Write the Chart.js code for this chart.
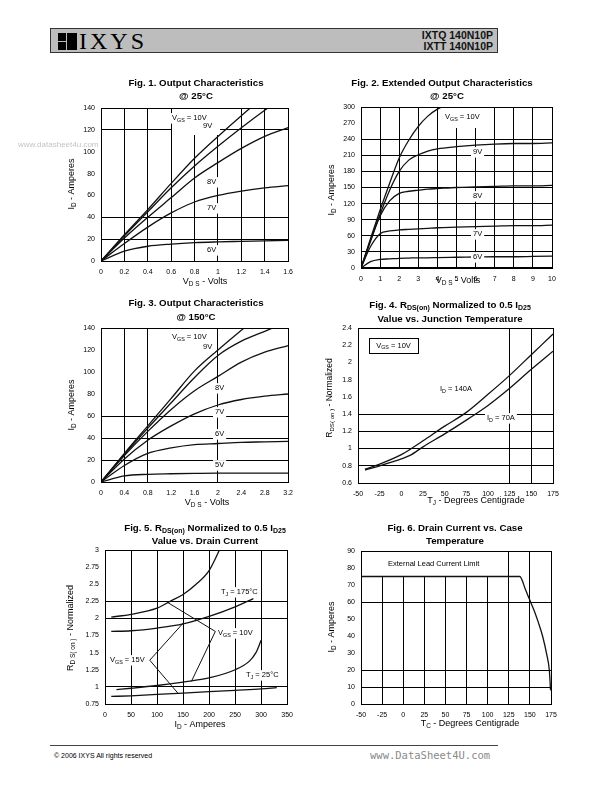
<!DOCTYPE html>
<html>
<head>
<meta charset="utf-8">
<script src="https://cdn.jsdelivr.net/npm/chart.js@4.4.1/dist/chart.umd.min.js"></script>
<style>
  body { margin: 0; width: 595px; height: 791px; position: relative; overflow: hidden; background: #fff; font-family: "Liberation Sans", Arial, sans-serif; }
  canvas { position: absolute; }
  .hdr { position: absolute; left: 50px; top: 28px; width: 446px; height: 23px; background: #bdbdbd; border: 1px solid #333; }
  .logo { position: absolute; left: 7px; top: 4px; width: 19px; height: 17px; background: #000; }
  .logo .v { position: absolute; left: 8px; top: 0; width: 1px; height: 17px; background: #bdbdbd; }
  .logo .h { position: absolute; left: 0; top: 8px; width: 8px; height: 1px; background: #bdbdbd; }
  .brand { position: absolute; left: 28px; top: 0; font: 24px/24px "Liberation Serif", "Times New Roman", serif; letter-spacing: 3px; color: #000; }
  .part { position: absolute; right: 4px; top: 1px; font: bold 10.5px/10.5px "Liberation Sans", Arial, sans-serif; text-align: right; color: #111; }
  .foot { position: absolute; left: 50px; top: 745px; width: 448px; border-top: 1px solid #444; }
  .copy { position: absolute; left: 54px; top: 752px; font: 7px "Liberation Sans", Arial, sans-serif; color: #000; }
  .site { position: absolute; left: 370px; top: 749px; font: 10.5px "DejaVu Sans Mono", monospace; color: #8a8a8a; }
</style>
</head>
<body>
<div class="hdr">
  <div class="logo"><div class="v"></div><div class="h"></div></div>
  <div class="brand">IXYS</div>
  <div class="part">IXTQ 140N10P<br>IXTT 140N10P</div>
</div>
<div class="foot"></div>
<div class="copy">© 2006 IXYS All rights reserved</div>
<div class="site">www.DataSheet4U.com</div>
<script>
// axis ranges: [min, max, step]
const fig1XAxis = [0, 1.6, 0.2];
const fig1YAxis = [0, 140, 20];
const fig2XAxis = [0, 10, 1];
const fig2YAxis = [0, 300, 30];
const fig3XAxis = [0, 3.2, 0.4];
const fig3YAxis = [0, 140, 20];
const fig4XAxis = [-50, 175, 25];
const fig4YAxis = [0.6, 2.4, 0.2];
const fig5XAxis = [0, 350, 50];
const fig5YAxis = [0.75, 3, 0.25];
const fig6XAxis = [-50, 175, 25];
const fig6YAxis = [0, 90, 10];

// Fig. 1 output characteristics @ 25C
const fig1Vds = [0, 0.2, 0.4, 0.6, 0.8, 1.0, 1.2, 1.4, 1.6];
const fig1Id10V = [0, 24, 47, 71, 94, 114, 133, 151, 168];
const fig1Id9V = [0, 23, 45, 67, 87, 105, 122, 138, 153];
const fig1Id8V = [0, 21, 40, 58, 76, 90, 103, 114, 122];
const fig1Id7V = [0, 16, 31, 44, 54, 60, 64, 67, 69];
const fig1Id6V = [0, 9, 13.5, 15.5, 16.8, 17.5, 18, 18.5, 19];

// Fig. 2 extended output characteristics @ 25C
const fig2Vds = [0, 0.5, 1, 1.5, 2, 2.5, 3, 3.5, 4, 5, 6, 7, 8, 9, 10];
const fig2Id10V = [0, 55, 108, 158, 205, 238, 264, 283, 296, 312, null, null, null, null, null];
const fig2Id9V = [0, 52, 100, 145, 180, 201, 211, 218, 222, 226, 229, 231, 232, 232, 233];
const fig2Id8V = [0, 50, 97, 125, 139, 143, 145, 147, 148, 150, 151, 152, 153, 153, 154];
const fig2Id7V = [0, 40, 64, 69, 71, 72, 73, 74, 75, 76, 77, 78, 79, 79, 80];
const fig2Id6V = [0, 12, 16, 17, 18, 18.5, 19, 19, 19.5, 20, 20.5, 21, 21, 21.5, 22];

// Fig. 3 output characteristics @ 150C
const fig3Vds = [0, 0.4, 0.8, 1.2, 1.6, 2.0, 2.4, 2.8, 3.2];
const fig3Id10V = [0, 26, 51, 76, 101, 120, 138, 155, 172];
const fig3Id9V = [0, 25, 49, 72, 95, 115, 128, 137, 146];
const fig3Id8V = [0, 24, 46, 66, 83, 96, 109, 118, 124];
const fig3Id7V = [0, 21, 38, 51, 62, 70, 75, 78, 80];
const fig3Id6V = [0, 15, 26, 31, 34, 35, 36, 36.5, 37];
const fig3Id5V = [0, 5.5, 7, 7.5, 7.8, 8, 8, 8, 8];

// Fig. 4 RDS(on) vs junction temperature
const fig4Tj = [-42, -25, 0, 10, 25, 50, 75, 100, 125, 150, 175];
const fig4R140A = [0.76, 0.82, 0.93, 0.99, 1.09, 1.26, 1.42, 1.63, 1.85, 2.09, 2.33];
const fig4R70A = [0.75, 0.80, 0.88, 0.92, 1.02, 1.17, 1.33, 1.50, 1.70, 1.92, 2.13];

// Fig. 5 RDS(on) vs drain current
const fig5Id175C10V = [12, 50, 100, 125, 150, 175, 200, 220];
const fig5R175C10V = [2.02, 2.06, 2.15, 2.25, 2.35, 2.5, 2.7, 3.0];
const fig5Id175C15V = [12, 50, 100, 150, 200, 250, 285];
const fig5R175C15V = [1.81, 1.82, 1.86, 1.92, 2.03, 2.17, 2.29];
const fig5Id25C10V = [22, 50, 100, 150, 200, 250, 278, 290, 300];
const fig5R25C10V = [0.96, 0.98, 1.02, 1.07, 1.13, 1.25, 1.38, 1.5, 1.68];
const fig5Id25C15V = [12, 50, 100, 150, 200, 250, 300, 330];
const fig5R25C15V = [0.86, 0.87, 0.89, 0.91, 0.93, 0.95, 0.97, 0.99];
const fig5Ptr10VId = [121, 212, 166];
const fig5Ptr10VR = [2.23, 1.81, 1.08];
const fig5Ptr15VId = [150, 86, 141];
const fig5Ptr15VR = [1.93, 1.39, 0.9];

// Fig. 6 drain current vs case temperature
const fig6Tc = [-50, 138, 145, 150, 155, 160, 165, 170, 173, 174.5];
const fig6Id = [75, 75, 67, 61, 55, 48, 40, 29, 20, 8];

const FONT = '"Liberation Sans", Arial, Helvetica, sans-serif';

function fmt(v) { return String(Math.round(v * 100) / 100); }
function near(list, v) { return list.some(g => Math.abs(g - v) < 1e-6); }

// "V_{GS} = 10V" -> [["V",false],["GS",true],[" = 10V",false]]
function parts(str) {
  const out = [];
  const re = /_\{([^}]*)\}/g;
  let last = 0, m;
  while ((m = re.exec(str))) {
    if (m.index > last) out.push([str.slice(last, m.index), false]);
    out.push([m[1], true]);
    last = re.lastIndex;
  }
  if (last < str.length) out.push([str.slice(last), false]);
  return out;
}

function drawRich(c, str, x, y, o) {
  const size = o.size || 7;
  const weight = o.bold ? 'bold ' : '';
  const font = s => weight + s + 'px ' + FONT;
  const segs = parts(str);
  let w = 0;
  segs.forEach(s => { c.font = font(s[1] ? size * 0.72 : size); s.w = c.measureText(s[0]).width; w += s.w; });
  c.save();
  c.translate(x, y);
  if (o.rotate) c.rotate(-Math.PI / 2);
  let sx = o.align === 'left' ? 0 : o.align === 'right' ? -w : -w / 2;
  if (o.bg) {
    c.fillStyle = '#fff';
    c.fillRect(sx - 2, -size * 0.65, w + 4, size * 1.4);
  }
  c.fillStyle = o.color || '#000';
  c.textBaseline = 'middle';
  segs.forEach(s => {
    c.font = font(s[1] ? size * 0.72 : size);
    c.fillText(s[0], sx, s[1] ? size * 0.28 : 0);
    sx += s.w;
  });
  c.restore();
}

function pagePlugin(fig) {
  const ox = fig.canvas.x, oy = fig.canvas.y;
  return {
    id: 'page',
    beforeDatasetsDraw(chart) {
      const c = chart.ctx;
      c.save();
      c.fillStyle = '#fff';
      (fig.boxes || []).forEach(b => c.fillRect(b[0] - ox, b[1] - oy, b[2], b[3]));
      c.restore();
    },
    afterDatasetsDraw(chart) {
      const c = chart.ctx, a = chart.chartArea;
      c.save();
      c.strokeStyle = '#000';
      c.lineWidth = 1;
      c.strokeRect(Math.round(a.left) + 0.5, Math.round(a.top) + 0.5, Math.round(a.right - a.left), Math.round(a.bottom - a.top));
      if (fig.thickBottom) {
        c.lineWidth = 2;
        c.beginPath(); c.moveTo(a.left, a.bottom); c.lineTo(a.right, a.bottom); c.stroke();
      }
      if (fig.frameLabel) {
        const f = fig.frameLabel;
        c.fillStyle = '#fff';
        c.fillRect(f.r[0] - ox, f.r[1] - oy, f.r[2], f.r[3]);
        c.lineWidth = 1;
        c.strokeRect(f.r[0] - ox + 0.5, f.r[1] - oy + 0.5, f.r[2], f.r[3]);
        drawRich(c, f.t, f.r[0] - ox + f.r[2] / 2, f.r[1] - oy + f.r[3] / 2, { size: 7.5 });
      }
      (fig.labels || []).forEach(l => drawRich(c, l.t, l.x - ox, l.y - oy, { size: 7.5, align: 'left', bg: true }));
      (fig.titles || []).forEach(l => drawRich(c, l.t, l.x - ox, l.y - oy, { size: 9.7, bold: true }));
      fig.axisTitles.forEach(l => drawRich(c, l.t, l.x - ox, l.y - oy, { size: l.size || 9, rotate: l.rot }));
      if (fig.watermark) {
        const w = fig.watermark;
        drawRich(c, w.t, w.x - ox, w.y - oy, { size: 8, align: 'left', color: '#c4c4c4' });
      }
      c.restore();
    },
  };
}

function axis(range, grid, pad, fit) {
  return {
    type: 'linear', min: range[0], max: range[1], afterFit: fit,
    border: { display: false },
    grid: { color: ctx => (near(grid, ctx.tick.value) ? '#000' : 'rgba(0,0,0,0)'), lineWidth: 1, drawTicks: false },
    ticks: { stepSize: range[2], autoSkip: false, maxRotation: 0, padding: pad, color: '#000', font: { family: FONT, size: 7 }, callback: v => fmt(v) },
  };
}

function makeFigure(fig) {
  const b = fig.canvas, p = fig.plot;
  const cv = document.createElement('canvas');
  cv.width = b.w; cv.height = b.h;
  cv.style.left = b.x + 'px'; cv.style.top = b.y + 'px';
  cv.style.width = b.w + 'px'; cv.style.height = b.h + 'px';
  document.body.appendChild(cv);
  new Chart(cv.getContext('2d'), {
    type: 'line',
    data: {
      datasets: fig.series.map(s => ({
        data: s.x.map((v, i) => ({ x: v, y: s.y[i] })).filter(d => d.y !== null),
        borderColor: '#111',
        borderWidth: s.straight ? 1 : 1.3,
        pointRadius: 0,
        fill: false,
        tension: 0,
        cubicInterpolationMode: s.straight ? 'default' : 'monotone',
      })),
    },
    options: {
      responsive: false,
      animation: false,
      devicePixelRatio: 1,
      layout: { padding: { top: p.t - b.y, left: 0, right: b.x + b.w - p.r, bottom: 0 } },
      plugins: { legend: { display: false }, tooltip: { enabled: false } },
      scales: {
        x: axis(fig.xAxis, fig.xGrid, 7, s => { s.height = b.y + b.h - p.b; }),
        y: axis(fig.yAxis, fig.yGrid, 6, s => { s.width = p.l - b.x; }),
      },
    },
    plugins: [pagePlugin(fig)],
  });
}

makeFigure({
  canvas: { x: 10, y: 70, w: 290, h: 218 }, plot: { l: 101, t: 108, r: 292, b: 261 },
  xAxis: fig1XAxis, yAxis: fig1YAxis,
  xGrid: [0.2, 0.4, 0.6, 0.8, 1.0, 1.2, 1.4], yGrid: [20, 40, 120],
  series: [
    { x: fig1Vds, y: fig1Id10V }, { x: fig1Vds, y: fig1Id9V }, { x: fig1Vds, y: fig1Id8V },
    { x: fig1Vds, y: fig1Id7V }, { x: fig1Vds, y: fig1Id6V },
  ],
  boxes: [[172, 109, 48, 26]],
  labels: [
    { t: 'V_{GS} = 10V', x: 172, y: 118 }, { t: '9V', x: 203, y: 126 },
    { t: '8V', x: 207, y: 182 }, { t: '7V', x: 207, y: 208 }, { t: '6V', x: 207, y: 250 },
  ],
  titles: [{ t: 'Fig. 1. Output Characteristics', x: 196, y: 83.5 }, { t: '@ 25°C', x: 196, y: 96 }],
  axisTitles: [{ t: 'I_{D} - Amperes', x: 72, y: 184, rot: true }, { t: 'V_{D S} - Volts', x: 205, y: 282 }],
  watermark: { t: 'www.datasheet4u.com', x: 18, y: 145 },
});

makeFigure({
  canvas: { x: 300, y: 70, w: 285, h: 218 }, plot: { l: 361, t: 107, r: 552, b: 268 },
  xAxis: fig2XAxis, yAxis: fig2YAxis, thickBottom: true,
  xGrid: [1, 2, 3, 4, 5, 6, 7, 8, 9], yGrid: [30, 60, 90, 120, 150, 180, 210, 240],
  series: [
    { x: fig2Vds, y: fig2Id10V }, { x: fig2Vds, y: fig2Id9V }, { x: fig2Vds, y: fig2Id8V },
    { x: fig2Vds, y: fig2Id7V }, { x: fig2Vds, y: fig2Id6V },
  ],
  boxes: [[443, 108, 48, 20]],
  labels: [
    { t: 'V_{GS} = 10V', x: 445, y: 117 }, { t: '9V', x: 473, y: 152 }, { t: '8V', x: 473, y: 196 },
    { t: '7V', x: 473, y: 234 }, { t: '6V', x: 473, y: 257 },
  ],
  titles: [{ t: 'Fig. 2. Extended Output Characteristics', x: 442, y: 83.5 }, { t: '@ 25°C', x: 447, y: 96 }],
  axisTitles: [{ t: 'I_{D} - Amperes', x: 332, y: 190, rot: true }, { t: 'V_{D S} - Volts', x: 458, y: 281 }],
});

makeFigure({
  canvas: { x: 10, y: 290, w: 290, h: 222 }, plot: { l: 101, t: 328, r: 292, b: 482 },
  xAxis: fig3XAxis, yAxis: fig3YAxis,
  xGrid: [0.4, 0.8, 2.0], yGrid: [20, 40, 60],
  series: [
    { x: fig3Vds, y: fig3Id10V }, { x: fig3Vds, y: fig3Id9V }, { x: fig3Vds, y: fig3Id8V },
    { x: fig3Vds, y: fig3Id7V }, { x: fig3Vds, y: fig3Id6V }, { x: fig3Vds, y: fig3Id5V },
  ],
  boxes: [[172, 329, 44, 24]],
  labels: [
    { t: 'V_{GS} = 10V', x: 172, y: 337 }, { t: '9V', x: 203, y: 347 }, { t: '8V', x: 215, y: 388 },
    { t: '7V', x: 215, y: 412 }, { t: '6V', x: 215, y: 434 }, { t: '5V', x: 215, y: 465 },
  ],
  titles: [{ t: 'Fig. 3. Output Characteristics', x: 196, y: 303 }, { t: '@ 150°C', x: 196, y: 317 }],
  axisTitles: [{ t: 'I_{D} - Amperes', x: 72, y: 405, rot: true }, { t: 'V_{D S} - Volts', x: 207, y: 503 }],
});

makeFigure({
  canvas: { x: 300, y: 290, w: 285, h: 222 }, plot: { l: 358, t: 328, r: 553, b: 483 },
  xAxis: fig4XAxis, yAxis: fig4YAxis,
  xGrid: [125, 150], yGrid: [0.8, 1.0, 1.2, 1.4],
  series: [{ x: fig4Tj, y: fig4R140A }, { x: fig4Tj, y: fig4R70A }],
  frameLabel: { t: 'V_{GS} = 10V', r: [369, 338, 49, 15] },
  labels: [{ t: 'I_{D} = 140A', x: 440, y: 389 }, { t: 'I_{D} = 70A', x: 487, y: 418 }],
  titles: [
    { t: 'Fig. 4. R_{DS(on)} Normalized to 0.5 I_{D25}', x: 450, y: 305 },
    { t: 'Value vs. Junction Temperature', x: 450, y: 319 },
  ],
  axisTitles: [
    { t: 'R_{DS( on )} - Normalized', x: 330, y: 398, rot: true, size: 8.5 },
    { t: 'T_{J} - Degrees Centigrade', x: 476, y: 501 },
  ],
});

makeFigure({
  canvas: { x: 10, y: 514, w: 290, h: 221 }, plot: { l: 105, t: 550, r: 292, b: 704 },
  xAxis: fig5XAxis, yAxis: fig5YAxis,
  xGrid: [50, 100, 150, 200, 250, 300], yGrid: [1.0, 2.0, 2.25],
  series: [
    { x: fig5Id175C10V, y: fig5R175C10V }, { x: fig5Id175C15V, y: fig5R175C15V },
    { x: fig5Id25C10V, y: fig5R25C10V }, { x: fig5Id25C15V, y: fig5R25C15V },
    { x: fig5Ptr10VId, y: fig5Ptr10VR, straight: true }, { x: fig5Ptr15VId, y: fig5Ptr15VR, straight: true },
  ],
  labels: [
    { t: 'T_{J} = 175°C', x: 221, y: 592 }, { t: 'V_{GS} = 10V', x: 218, y: 633 },
    { t: 'V_{GS} = 15V', x: 110, y: 660 }, { t: 'T_{J} = 25°C', x: 246, y: 675 },
  ],
  titles: [
    { t: 'Fig. 5. R_{DS(on)} Normalized to 0.5 I_{D25}', x: 205, y: 528 },
    { t: 'Value vs. Drain Current', x: 205, y: 541 },
  ],
  axisTitles: [
    { t: 'R_{D S( on )} - Normalized', x: 71, y: 628, rot: true, size: 9 },
    { t: 'I_{D} - Amperes', x: 200, y: 725 },
  ],
});

makeFigure({
  canvas: { x: 300, y: 514, w: 285, h: 221 }, plot: { l: 361, t: 551, r: 551, b: 704 },
  xAxis: fig6XAxis, yAxis: fig6YAxis,
  xGrid: [-25, 0, 25, 50, 75, 100, 125, 150], yGrid: [10, 20, 60],
  series: [{ x: fig6Tc, y: fig6Id }],
  boxes: [[362, 552, 143, 24]],
  labels: [{ t: 'External Lead Current Limit', x: 388, y: 564 }],
  titles: [{ t: 'Fig. 6. Drain Current vs. Case', x: 455, y: 528 }, { t: 'Temperature', x: 455, y: 541 }],
  axisTitles: [
    { t: 'I_{D} - Amperes', x: 332, y: 627, rot: true },
    { t: 'T_{C} - Degrees Centigrade', x: 470, y: 724 },
  ],
});
</script>
</body>
</html>
